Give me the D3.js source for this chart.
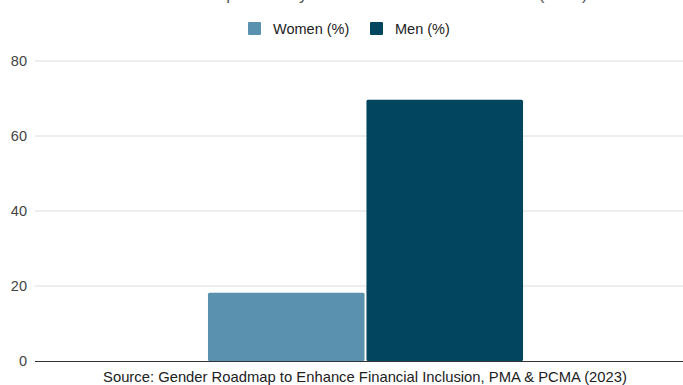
<!DOCTYPE html>
<html>
<head>
<meta charset="utf-8">
<script src="https://cdn.jsdelivr.net/npm/d3@7"></script>
<style>
  body { margin: 0; background: #fff; }
  svg { display: block; font-family: "Liberation Sans", Arial, sans-serif; }
</style>
</head>
<body>
<div id="chart"></div>
<script>
// Data
const categories = ["Palestine"];
const seriesNames = ["Women (%)", "Men (%)"];
const womenValues = [18.2];
const menValues = [69.7];
const yTicks = [0, 20, 40, 60, 80];
const titleText = "Account Ownership Rates by Women and Men in Palestine (2023)";
const sourceText = "Source: Gender Roadmap to Enhance Financial Inclusion, PMA & PCMA (2023)";

const colours = ["#5a91af", "#02455f"];

const W = 683, H = 385;
const margin = { top: 61, right: -13, bottom: 24, left: 35 };
const width = W - margin.left - margin.right;
const height = H - margin.top - margin.bottom;

const rows = categories.map((c, i) => ({ cat: c, values: [womenValues[i], menValues[i]] }));

const svg = d3.select("#chart")
    .append("svg")
        .attr("width", W)
        .attr("height", H);

const g = svg.append("g")
    .attr("transform", `translate(${margin.left},${margin.top})`);

// Scales
const x0 = d3.scaleBand()
    .domain(categories)
    .range([0, width])
    .paddingOuter(0.549);
const x1 = d3.scaleBand()
    .domain(seriesNames)
    .range([0, x0.bandwidth()])
    .paddingInner(0.012);
const y = d3.scaleLinear()
    .domain([0, 80])
    .range([height, 0]);

// Gridlines
g.append("g")
    .selectAll("line")
    .data(yTicks.filter(d => d !== 0))
    .join("line")
        .attr("x1", 0)
        .attr("x2", width)
        .attr("y1", d => y(d))
        .attr("y2", d => y(d))
        .attr("stroke", "#dcdcdc")
        .attr("stroke-width", 1);

// Y axis labels
g.append("g")
    .call(d3.axisLeft(y).tickValues(yTicks).tickSize(0).tickPadding(8))
    .call(a => a.select(".domain").remove())
    .call(a => a.selectAll("text")
        .attr("fill", "#444")
        .style("font-size", "14.5px")
        .style("font-family", "Liberation Sans, Arial, sans-serif"));

// Bars
g.append("g")
    .selectAll("g")
    .data(rows)
    .join("g")
        .attr("transform", d => `translate(${x0(d.cat)},0)`)
    .selectAll("rect")
    .data(d => d.values.map((v, i) => ({ key: seriesNames[i], value: v, i })))
    .join("rect")
        .attr("x", d => x1(d.key))
        .attr("y", d => y(d.value))
        .attr("width", x1.bandwidth())
        .attr("height", d => y(0) - y(d.value))
        .attr("rx", 1.5)
        .attr("fill", d => colours[d.i]);

// Baseline
g.append("line")
    .attr("x1", 0)
    .attr("x2", width)
    .attr("y1", y(0) + 0.5)
    .attr("y2", y(0) + 0.5)
    .attr("stroke", "#333")
    .attr("stroke-width", 1);

// Title (cut off at the top edge, as in the original)
svg.append("text")
    .attr("x", 338)
    .attr("y", 0)
    .attr("text-anchor", "middle")
    .attr("fill", "#555")
    .style("font-size", "17px")
    .text(titleText);

// Legend
const legend = svg.append("g").attr("transform", "translate(248,22)");
const legendX = [0, 122];
const items = legend.selectAll("g")
    .data(seriesNames)
    .join("g")
        .attr("transform", (d, i) => `translate(${legendX[i]},0)`);
items.append("rect")
    .attr("width", 13)
    .attr("height", 13)
    .attr("rx", 1)
    .attr("fill", (d, i) => colours[i]);
items.append("text")
    .attr("x", 25)
    .attr("y", 12)
    .attr("fill", "#222")
    .style("font-size", "14.5px")
    .text(d => d);

// Source note
svg.append("text")
    .attr("x", 365)
    .attr("y", 382)
    .attr("text-anchor", "middle")
    .attr("fill", "#222")
    .style("font-size", "14.8px")
    .text(sourceText);
</script>
</body>
</html>
